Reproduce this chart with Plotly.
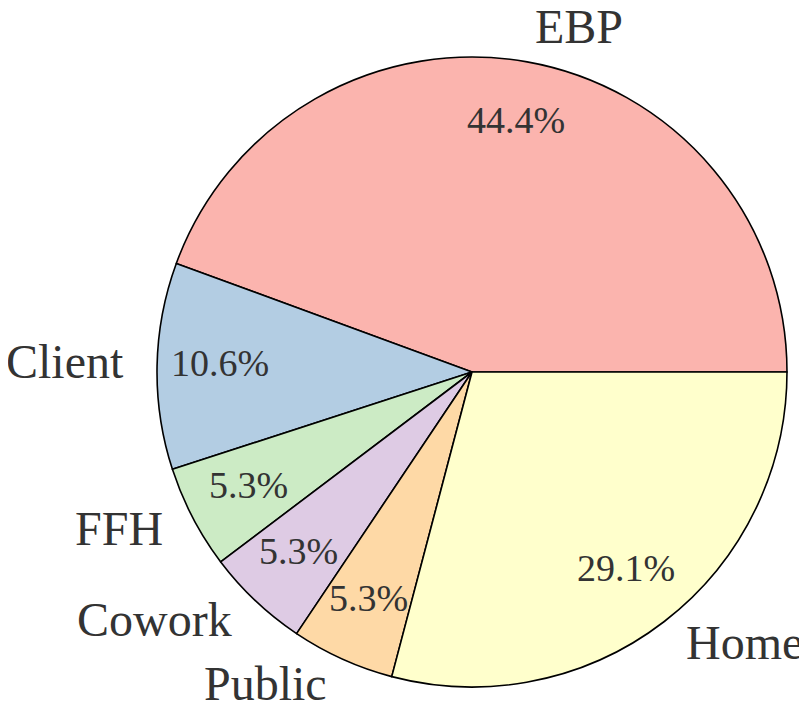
import math
import plotly.graph_objects as go

labels = ["EBP", "Client", "FFH", "Cowork", "Public", "Home"]
values = [44.4, 10.6, 5.3, 5.3, 5.3, 29.1]
colors = ["#fbb4ae", "#b3cde3", "#ccebc5", "#decbe4", "#fed9a6", "#ffffcc"]

# page body has an 8px margin, so the figure is 8px smaller than the window
W, H = 799, 703
CX, CY, R = 464, 364, 315  # pixel centre and radius of the pie (figure coords)
TEXT = "#333333"
FONT = "Liberation Serif"

total = sum(values)
# plotly counterclockwise: rotation marks the end of the first slice
rot = 90 - 360 * values[0] / total

fig = go.Figure(go.Pie(
    labels=labels, values=values, sort=False,
    direction="counterclockwise", rotation=rot,
    marker=dict(colors=colors, line=dict(color="black", width=1.6)),
    textinfo="none", hoverinfo="label+percent", showlegend=False,
    domain=dict(x=[(CX - R) / W, (CX + R) / W],
                y=[(H - CY - R) / H, (H - CY + R) / H]),
))

ann = []
start = 0.0
for lab, v in zip(labels, values):
    frac = v / total
    mid = (start + frac / 2) * 2 * math.pi
    start += frac
    c, s = math.cos(mid), math.sin(mid)
    # outer label
    lx, ly = CX + 1.1 * R * c, CY - 1.1 * R * s
    ann.append(dict(x=lx / W, y=1 - ly / H, xref="paper", yref="paper",
                    text=lab, showarrow=False, yshift=4,
                    xanchor="left" if c > 0 else "right", yanchor="middle",
                    font=dict(family=FONT, size=48, color=TEXT)))
    # percentage
    px, py = CX + 0.8 * R * c, CY - 0.8 * R * s
    ann.append(dict(x=px / W, y=1 - py / H, xref="paper", yref="paper",
                    text=f"{v / total * 100:.1f}%", showarrow=False, yshift=4,
                    xanchor="center", yanchor="middle",
                    font=dict(family=FONT, size=38, color=TEXT)))

fig.update_layout(width=W, height=H, margin=dict(l=0, r=0, t=0, b=0),
                  paper_bgcolor="white", plot_bgcolor="white",
                  annotations=ann)
fig.write_html("out.html")
